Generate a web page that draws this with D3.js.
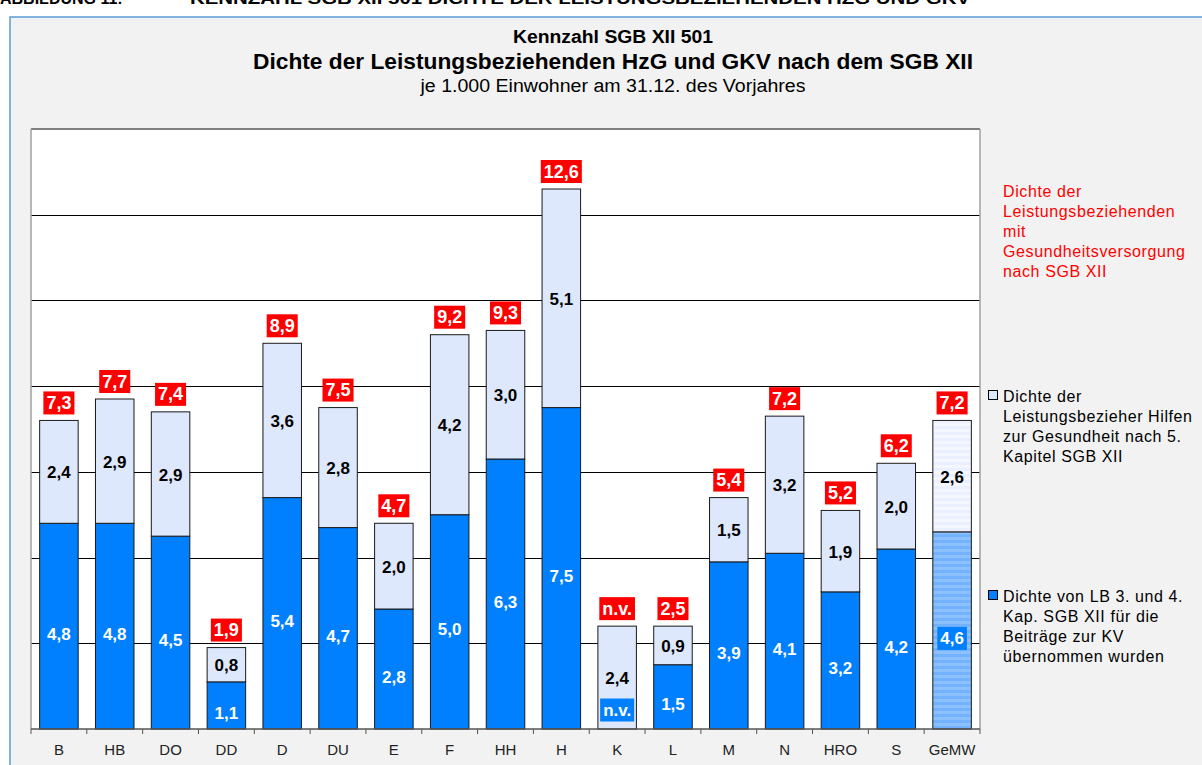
<!DOCTYPE html>
<html>
<head>
<meta charset="utf-8">
<script src="https://cdn.jsdelivr.net/npm/d3@7"></script>
<style>
  body { margin: 0; background: #ffffff; }
  svg { display: block; font-family: "Liberation Sans", Arial, sans-serif; }
</style>
</head>
<body>
<svg id="chart" width="1202" height="765"></svg>
<script>
// categories (cities) and values
var categories = ['B', 'HB', 'DO', 'DD', 'D', 'DU', 'E', 'F', 'HH', 'H', 'K', 'L', 'M', 'N', 'HRO', 'S', 'GeMW'];
var kvValues   = [4.8, 4.8, 4.5, 1.1, 5.4, 4.7, 2.8, 5.0, 6.3, 7.5, null, 1.5, 3.9, 4.1, 3.2, 4.2, 4.6];
var hzgValues  = [2.4, 2.9, 2.9, 0.8, 3.6, 2.8, 2.0, 4.2, 3.0, 5.1, 2.4, 0.9, 1.5, 3.2, 1.9, 2.0, 2.6];
var totals     = [7.3, 7.7, 7.4, 1.9, 8.9, 7.5, 4.7, 9.2, 9.3, 12.6, null, 2.5, 5.4, 7.2, 5.2, 6.2, 7.2];
var yTicks     = [0, 2, 4, 6, 8, 10, 12, 14];

var legendTotal = ['Dichte der', 'Leistungsbeziehenden', 'mit', 'Gesundheitsversorgung', 'nach SGB XII'];
var legendHzg   = ['Dichte der', 'Leistungsbezieher  Hilfen', 'zur Gesundheit  nach 5.', 'Kapitel SGB XII'];
var legendKv    = ['Dichte von LB 3.  und 4.', 'Kap. SGB XII für die', 'Beiträge zur KV', 'übernommen wurden'];

(function() {
    var BLUE = '#0080ff', LIGHT = '#dde8fc', RED = '#ff0000';

    var svg = d3.select('#chart');
    var fmt = function(v) { return v == null ? 'n.v.' : d3.format('.1f')(v).replace('.', ','); };

    // patterns for the average (GeMW) bar
    var defs = svg.append('defs');
    var pBlue = defs.append('pattern').attr('id', 'stripeBlue').attr('patternUnits', 'userSpaceOnUse')
        .attr('width', 8).attr('height', 6);
    pBlue.append('rect').attr('width', 8).attr('height', 6).attr('fill', '#8cc0ff');
    pBlue.append('rect').attr('width', 8).attr('height', 3).attr('fill', '#72b2ff');
    var pLight = defs.append('pattern').attr('id', 'stripeLight').attr('patternUnits', 'userSpaceOnUse')
        .attr('width', 8).attr('height', 6);
    pLight.append('rect').attr('width', 8).attr('height', 6).attr('fill', '#f4f7ff');
    pLight.append('rect').attr('width', 8).attr('height', 3).attr('fill', '#eaf0ff');

    // header line (cut at the top of the page)
    svg.append('text').attr('x', 0).attr('y', 4).style('font-size', '16px').style('font-weight', 'bold')
        .text('ABBILDUNG 11:');
    svg.append('text').attr('x', 190).attr('y', 4).style('font-size', '16px').style('font-weight', 'bold')
        .attr('textLength', 780).attr('lengthAdjust', 'spacingAndGlyphs')
        .text('KENNZAHL SGB XII 501 DICHTE DER LEISTUNGSBEZIEHENDEN HZG UND GKV');

    // chart frame
    svg.append('rect').attr('x', 10).attr('y', 17).attr('width', 1200).attr('height', 760)
        .attr('fill', '#f2f2f2').attr('stroke', '#5b9bd5').attr('stroke-width', 1.5);

    // titles
    var cx = 613;
    svg.append('text').attr('x', cx).attr('y', 43).attr('text-anchor', 'middle')
        .style('font-size', '18px').style('font-weight', 'bold')
        .attr('textLength', 200).attr('lengthAdjust', 'spacingAndGlyphs')
        .text('Kennzahl SGB XII 501');
    svg.append('text').attr('x', cx).attr('y', 69).attr('text-anchor', 'middle')
        .style('font-size', '22px').style('font-weight', 'bold')
        .attr('textLength', 720).attr('lengthAdjust', 'spacingAndGlyphs')
        .text('Dichte der Leistungsbeziehenden HzG und GKV nach dem SGB XII');
    svg.append('text').attr('x', cx).attr('y', 92).attr('text-anchor', 'middle')
        .style('font-size', '18px')
        .attr('textLength', 385).attr('lengthAdjust', 'spacingAndGlyphs')
        .text('je 1.000 Einwohner am 31.12. des Vorjahres');

    // scales
    var left = 31, right = 980, plotTop = 129, bottom = 729;
    var x = d3.scaleBand().domain(categories).range([left, right]).padding(0);
    var y = d3.scaleLinear().domain([0, 14]).range([bottom, plotTop]);
    var barW = x.bandwidth() * 0.69;
    var barX = function(c) { return x(c) + (x.bandwidth() - barW) / 2; };

    // plot area
    svg.append('rect').attr('x', left).attr('y', plotTop).attr('width', right - left).attr('height', bottom - plotTop)
        .attr('fill', '#ffffff');

    // gridlines
    svg.append('g').selectAll('line').data(yTicks.filter(function(t) { return t > 0 && t < 14; }))
        .enter().append('line')
        .attr('x1', left).attr('x2', right)
        .attr('y1', function(d) { return Math.round(y(d)) + 0.5; })
        .attr('y2', function(d) { return Math.round(y(d)) + 0.5; })
        .attr('stroke', '#000').attr('stroke-width', 1);

    // plot border
    svg.append('line').attr('x1', left).attr('x2', right).attr('y1', plotTop).attr('y2', plotTop)
        .attr('stroke', '#808080').attr('stroke-width', 2);
    svg.append('line').attr('x1', right).attr('x2', right).attr('y1', plotTop).attr('y2', bottom)
        .attr('stroke', '#a0a0a0').attr('stroke-width', 1.5);
    svg.append('line').attr('x1', left).attr('x2', left).attr('y1', plotTop).attr('y2', bottom)
        .attr('stroke', '#a0a0a0').attr('stroke-width', 1.5);

    var rows = categories.map(function(c, i) {
        return { cat: c, kv: kvValues[i], hzg: hzgValues[i], total: totals[i], avg: c === 'GeMW' };
    });

    // bars
    var g = svg.append('g');
    rows.forEach(function(d) {
        var kv = d.kv || 0;
        if (kv > 0) {
            g.append('rect')
                .attr('x', barX(d.cat)).attr('width', barW)
                .attr('y', y(kv)).attr('height', y(0) - y(kv))
                .attr('fill', d.avg ? 'url(#stripeBlue)' : BLUE)
                .attr('stroke', '#1a1a1a').attr('stroke-width', 1);
        }
        g.append('rect')
            .attr('x', barX(d.cat)).attr('width', barW)
            .attr('y', y(kv + d.hzg)).attr('height', y(kv) - y(kv + d.hzg))
            .attr('fill', d.avg ? 'url(#stripeLight)' : LIGHT)
            .attr('stroke', '#1a1a1a').attr('stroke-width', 1);
    });

    // x axis line and ticks
    svg.append('line').attr('x1', left).attr('x2', right).attr('y1', bottom).attr('y2', bottom)
        .attr('stroke', '#555').attr('stroke-width', 1.5);
    var xAxis = d3.axisBottom(x).tickSize(0).tickPadding(15);
    var ax = svg.append('g').attr('transform', 'translate(0,' + bottom + ')').call(xAxis);
    ax.select('.domain').remove();
    ax.selectAll('text').style('font-size', '15px').style('font-family', '"Liberation Sans", Arial, sans-serif')
        .attr('fill', '#222');
    svg.append('g').selectAll('line').data(d3.range(categories.length + 1))
        .enter().append('line')
        .attr('x1', function(i) { return left + i * x.step(); })
        .attr('x2', function(i) { return left + i * x.step(); })
        .attr('y1', bottom).attr('y2', bottom + 5)
        .attr('stroke', '#555').attr('stroke-width', 1);

    // labels
    function boxLabel(parent, cx, cy, text, bg, fg, size) {
        var t = parent.append('text').attr('x', cx).attr('y', cy).attr('text-anchor', 'middle')
            .attr('dominant-baseline', 'central')
            .style('font-size', size + 'px').style('font-weight', 'bold').attr('fill', fg).text(text);
        if (bg) {
            var bb = t.node().getBBox();
            parent.insert('rect', function() { return t.node(); })
                .attr('x', bb.x - 3).attr('y', cy - 11.5).attr('width', bb.width + 6).attr('height', 23)
                .attr('fill', bg);
        }
    }
    var lab = svg.append('g');
    rows.forEach(function(d) {
        var c = x(d.cat) + x.bandwidth() / 2;
        var kv = d.kv || 0;
        // blue segment label
        if (d.kv != null) {
            boxLabel(lab, c, (y(0) + y(kv)) / 2 + 8, fmt(d.kv), BLUE, '#fff', 17);
        } else {
            boxLabel(lab, c, y(0) - 19, 'n.v.', BLUE, '#fff', 17);
        }
        // light segment label
        boxLabel(lab, c, (y(kv) + y(kv + d.hzg)) / 2 + 1, fmt(d.hzg), null, '#000', 17);
        // total label
        boxLabel(lab, c, y(kv + d.hzg) - 17.5, fmt(d.total), RED, '#fff', 18);
    });

    // legend
    var lx = 1003;
    function legendBlock(lines, y0, color, marker) {
        var t = svg.append('text').attr('x', lx).attr('y', y0).style('font-size', '16px')
            .style('letter-spacing', '0.6px').attr('fill', color);
        lines.forEach(function(s, i) {
            t.append('tspan').attr('x', lx).attr('dy', i === 0 ? 0 : 20).text(s);
        });
        if (marker) {
            svg.append('rect').attr('x', 988.5).attr('y', y0 - 11.5).attr('width', 9).attr('height', 9)
                .attr('fill', marker).attr('stroke', '#000').attr('stroke-width', 1);
        }
    }
    legendBlock(legendTotal, 197, RED, null);
    legendBlock(legendHzg, 402, '#000', LIGHT);
    legendBlock(legendKv, 602, '#000', BLUE);
})();
</script>
</body>
</html>
